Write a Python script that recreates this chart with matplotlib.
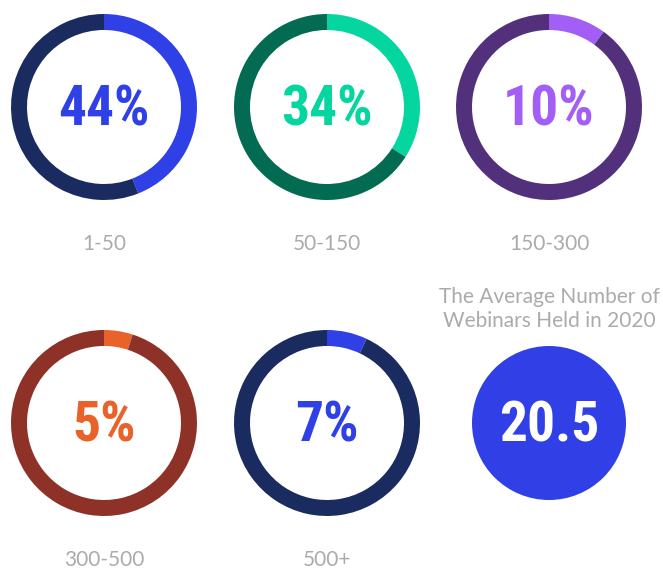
import matplotlib
matplotlib.use("Agg")
import matplotlib.pyplot as plt
from matplotlib.patches import Circle

# data
labels = ["1-50", "50-150", "150-300", "300-500", "500+"]
shares = [44, 34, 10, 5, 7]
fg_colors = ["#2f40e6", "#05d6a0", "#a35ef6", "#e8622a", "#2f40e6"]
bg_colors = ["#1a2b60", "#036b52", "#52307c", "#8e3228", "#1a2b60"]
avg_value = 20.5
avg_title = "The Average Number of\nWebinars Held in 2020"

W, H = 663, 569
fig = plt.figure(figsize=(W / 100, H / 100), dpi=100)
ax = fig.add_axes([0, 0, 1, 1])

centers = [(104, 107), (327, 107), (549, 107), (104, 423), (327, 423)]
R = 93
ring = 16
num_font = dict(family=["Roboto Condensed", "Liberation Sans Narrow", "Roboto", "DejaVu Sans"],
                weight="bold")
lab_font = dict(family=["Lato", "Open Sans", "DejaVu Sans"], weight="normal")
lab_color = "#ababab"

for lab, s, fc, bc, (cx, cy) in zip(labels, shares, fg_colors, bg_colors, centers):
    y = H - cy
    ax.pie([s, 100 - s], colors=[fc, bc], startangle=90, counterclock=False,
           center=(cx, y), radius=R, wedgeprops=dict(width=ring, linewidth=0),
           frame=True)
    ax.text(cx, y - 3, f"{s}%", ha="center", va="center", color=fc, fontsize=40, **num_font)
    ax.text(cx, y - 137, lab, ha="center", va="center", color=lab_color, fontsize=15, **lab_font)

# average circle
ax.add_patch(Circle((549, H - 423), 77, color="#3040e6", linewidth=0))
ax.text(549, H - 426, f"{avg_value}", ha="center", va="center", color="white", fontsize=40, **num_font)
ax.text(549, H - 309, avg_title, ha="center", va="center", color=lab_color, fontsize=15,
        linespacing=1.25, **lab_font)

ax.set_xlim(0, W)
ax.set_ylim(0, H)
ax.set_aspect("equal")
ax.axis("off")
fig.savefig("out.png", dpi=100, facecolor="white")
